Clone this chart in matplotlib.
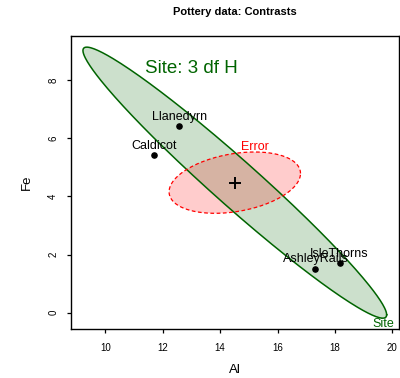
import numpy as np
import matplotlib
matplotlib.use('Agg')
import matplotlib.pyplot as plt

plt.rcParams['font.family'] = ['Liberation Sans', 'DejaVu Sans']

# group means (Al, Fe) by site
sites = ['Llanedyrn', 'Caldicot', 'IsleThorns', 'AshleyRails']
al_means = [12.57, 11.70, 18.16, 17.32]
fe_means = [6.40, 5.41, 1.70, 1.52]
grand_mean = [14.51, 4.47]

# shape matrices for the hypothesis and error ellipses
H_shape = [[27.98, -24.00], [-24.00, 21.67]]
E_shape = [[5.24, 0.724], [0.724, 1.109]]

x_ticks = [10, 12, 14, 16, 18, 20]
y_ticks = [0, 2, 4, 6, 8]


def ellipse_xy(center, shape, n=300):
    t = np.linspace(0, 2 * np.pi, n)
    L = np.linalg.cholesky(np.array(shape))
    circ = np.vstack([np.cos(t), np.sin(t)])
    pts = L @ circ
    return center[0] + pts[0], center[1] + pts[1]


fig = plt.figure(figsize=(4.0, 3.78), dpi=100)
ax = fig.add_axes([0.177, 0.1296, 0.82, 0.7744])

hx, hy = ellipse_xy(grand_mean, H_shape)
ex, ey = ellipse_xy(grand_mean, E_shape)

ax.fill(hx, hy, color='darkgreen', alpha=0.2, lw=0)
ax.fill(ex, ey, color='red', alpha=0.2, lw=0)
ax.plot(hx, hy, color='darkgreen', lw=1.1)
ax.plot(ex, ey, color='red', lw=0.9, dashes=(3, 2))

ax.scatter(al_means, fe_means, s=14, color='black', zorder=5)
ax.plot(grand_mean[0], grand_mean[1], marker='+', ms=9, mew=1.4, color='black', zorder=5)
for name, a, f in zip(sites, al_means, fe_means):
    ax.annotate(name, (a, f), xytext=(0, 4.6), textcoords='offset points',
                ha='center', va='baseline', fontsize=9, color='black', zorder=6)

ax.text(15.20, 5.607, 'Error', color='red', fontsize=9, ha='center', va='baseline')
ax.text(20.06, -0.503, 'Site', color='darkgreen', fontsize=9, ha='right', va='baseline')
ax.text(11.37, 8.24, 'Site: 3 df H', color='darkgreen', fontsize=13.5, ha='left', va='baseline')

# axis range = ellipse extent plus 4% padding on each side
xmin, xmax = hx.min(), hx.max()
ymin, ymax = hy.min(), hy.max()
px, py = 0.04 * (xmax - xmin), 0.04 * (ymax - ymin)
ax.set_xlim(xmin - px, xmax + px)
ax.set_ylim(ymin - py, ymax + py)

ax.set_xticks(x_ticks)
ax.set_yticks(y_ticks)
ax.tick_params(axis='x', length=3, width=0.9, pad=7, labelsize=7)
ax.tick_params(axis='y', length=3, width=0.9, pad=6, labelsize=7, labelrotation=90)
for lab in ax.get_yticklabels():
    lab.set_va('center')
for s in ax.spines.values():
    s.set_linewidth(1.0)

ax.set_xlabel('Al', fontsize=9.5, labelpad=8)
ax.set_ylabel('Fe', fontsize=9.5, labelpad=11)

fig.text(0.587, 1 - 12.3 / 378, 'Pottery data: Contrasts', fontsize=8,
         fontweight='bold', ha='center', va='center')

fig.savefig('out.png', dpi=100)
